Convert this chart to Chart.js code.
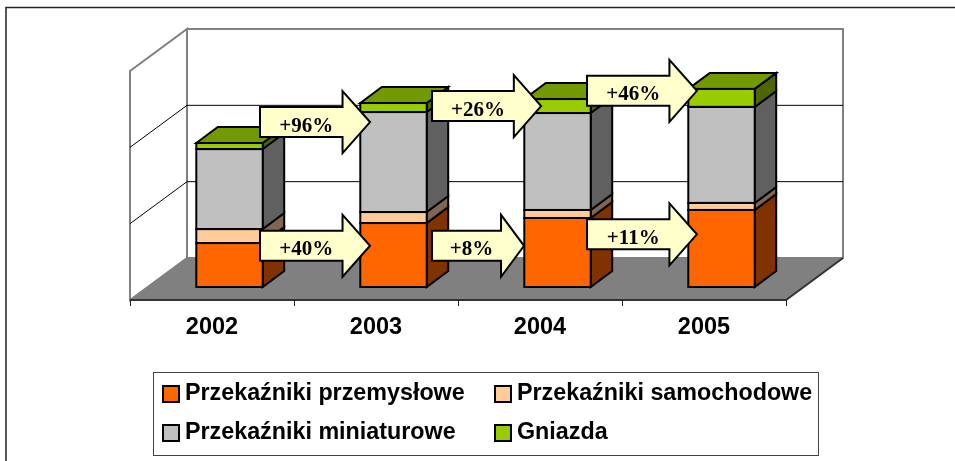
<!DOCTYPE html>
<html>
<head>
<meta charset="utf-8">
<style>
  body { margin: 0; background: #fff; }
  canvas { display: block; }
</style>
<script src="https://cdn.jsdelivr.net/npm/chart.js@4/dist/chart.umd.min.js"></script>
</head>
<body>
<canvas id="relayChart" width="955" height="461"></canvas>
<script>
const years = ['2002', '2003', '2004', '2005'];
const industrial = [57.6, 83.8, 90.4, 100.9];
const automotive = [18.3, 14.4, 10.5, 9.2];
const miniature = [104.8, 131, 127, 125.8];
const sockets = [7.9, 11.8, 18.3, 23.6];

const seriesNames = ['Przekaźniki przemysłowe', 'Przekaźniki samochodowe', 'Przekaźniki miniaturowe', 'Gniazda'];

// growth arrows: from/to in category units, at a value on the y axis
const growthTexts = ['+96%', '+26%', '+46%', '+40%', '+8%', '+11%'];
const growthFrom = [0.186, 1.235, 2.18, 0.186, 1.235, 2.18];
const growthTo = [0.857, 1.9, 2.85, 0.857, 1.796, 2.85];
const growthAt = [216, 237, 257, 54, 54, 69];

const faceColors = ['#FF6600', '#FFCC99', '#C0C0C0', '#99CC00'];
const sideColors = ['#803300', '#806650', '#606060', '#4D6600'];
const topColors = ['#BF4D00', '#BF9973', '#909090', '#739900'];

// the bars stand inside the box, so the box front sits left of and below the chart area
const boxFront = { x: -17.5, y: 13 };
const boxDepth = { x: 57, y: -42 };
const barDepth = { x: 21.5, y: -16 };

function poly(ctx, pts, fill, stroke, width) {
  ctx.beginPath();
  pts.forEach((p, i) => i ? ctx.lineTo(p[0], p[1]) : ctx.moveTo(p[0], p[1]));
  ctx.closePath();
  if (fill) { ctx.fillStyle = fill; ctx.fill(); }
  if (stroke) { ctx.strokeStyle = stroke; ctx.lineWidth = width; ctx.stroke(); }
}

const box3d = {
  id: 'box3d',
  beforeDatasetsDraw(chart) {
    const ctx = chart.ctx, area = chart.chartArea, y = chart.scales.y;
    const fl = area.left + boxFront.x, fr = area.right + boxFront.x;
    const fb = area.bottom + boxFront.y, ft = area.top + boxFront.y;
    const bl = fl + boxDepth.x, br = fr + boxDepth.x;
    const bb = fb + boxDepth.y, bt = ft + boxDepth.y;
    ctx.save();

    // walls
    poly(ctx, [[bl, bt], [br, bt], [br, bb], [bl, bb]], '#fff', '#808080', 2);
    poly(ctx, [[fl, ft], [bl, bt], [bl, bb], [fl, fb]], '#fff', '#808080', 2);

    // gridlines along side wall and back wall
    y.ticks.forEach(t => {
      if (t.value === y.min || t.value === y.max) return;
      const py = y.getPixelForValue(t.value) + boxFront.y;
      ctx.beginPath();
      ctx.moveTo(fl, py);
      ctx.lineTo(bl, py + boxDepth.y);
      ctx.lineTo(br, py + boxDepth.y);
      ctx.strokeStyle = '#000';
      ctx.lineWidth = 1;
      ctx.stroke();
    });

    // floor
    poly(ctx, [[fl, fb], [fr, fb], [br, bb], [bl, bb]], '#808080');
    ctx.beginPath();
    ctx.moveTo(fl, fb);
    ctx.lineTo(fr, fb);
    ctx.lineTo(br, bb);
    ctx.strokeStyle = '#333';
    ctx.lineWidth = 2;
    ctx.stroke();

    // tick marks on the front edge
    ctx.beginPath();
    for (let i = 0; i <= years.length; i++) {
      const tx = Math.round(fl + (fr - fl) * i / years.length) + 0.5;
      ctx.moveTo(tx, fb);
      ctx.lineTo(tx, fb + 6);
    }
    ctx.strokeStyle = '#222';
    ctx.lineWidth = 1;
    ctx.stroke();

    // side and top faces of each bar segment
    const dx = barDepth.x, dy = barDepth.y;
    chart.data.datasets.forEach((ds, d) => {
      chart.getDatasetMeta(d).data.forEach(el => {
        const r = el.x + el.width / 2, l = el.x - el.width / 2;
        poly(ctx, [[r, el.y], [r + dx, el.y + dy], [r + dx, el.base + dy], [r, el.base]], sideColors[d], '#000', 2);
        if (d === chart.data.datasets.length - 1) {
          poly(ctx, [[l, el.y], [l + dx, el.y + dy], [r + dx, el.y + dy], [r, el.y]], topColors[d], '#000', 2);
        }
      });
    });
    ctx.restore();
  },
  afterDatasetsDraw(chart) {
    const ctx = chart.ctx, x = chart.scales.x, y = chart.scales.y;
    ctx.save();

    // outline of the front faces
    chart.data.datasets.forEach((ds, d) => {
      chart.getDatasetMeta(d).data.forEach(el => {
        ctx.strokeStyle = '#000';
        ctx.lineWidth = 2;
        ctx.strokeRect(el.x - el.width / 2, el.y, el.width, el.base - el.y);
      });
    });

    // growth arrows
    growthTexts.forEach((text, i) => {
      const x0 = x.getPixelForValue(growthFrom[i]), x1 = x.getPixelForValue(growthTo[i]);
      const cy = y.getPixelForValue(growthAt[i]);
      const neck = x1 - (x1 - x0) * 0.25;
      poly(ctx, [
        [x0, cy - 15], [neck, cy - 15], [neck, cy - 31], [x1, cy],
        [neck, cy + 31], [neck, cy + 15], [x0, cy + 15]
      ], '#FFFFCC', '#000', 2);
      ctx.fillStyle = '#000';
      ctx.font = 'bold 21px "Liberation Serif"';
      ctx.textAlign = 'center';
      ctx.textBaseline = 'alphabetic';
      ctx.fillText(text, (x0 + neck) / 2 + 5, cy + 9.5);
    });
    ctx.restore();
  },
  afterDraw(chart) {
    const ctx = chart.ctx;
    ctx.save();

    // outer frame: only top and left edges are in the picture
    ctx.strokeStyle = '#222';
    ctx.lineWidth = 1.5;
    ctx.beginPath();
    ctx.moveTo(6, 461);
    ctx.lineTo(6, 7.5);
    ctx.lineTo(955, 7.5);
    ctx.stroke();

    // legend
    ctx.strokeStyle = '#444';
    ctx.lineWidth = 1;
    ctx.strokeRect(153.5, 372.5, 665, 83);
    const cols = [163, 495], rows = [386, 425];
    seriesNames.forEach((name, i) => {
      const lx = cols[i % 2], ly = rows[i >> 1];
      ctx.fillStyle = faceColors[i];
      ctx.fillRect(lx, ly, 16, 16);
      ctx.strokeStyle = '#000';
      ctx.lineWidth = 2;
      ctx.strokeRect(lx, ly, 16, 16);
      ctx.fillStyle = '#000';
      ctx.font = 'bold 23.3px "Liberation Sans"';
      ctx.textAlign = 'left';
      ctx.textBaseline = 'alphabetic';
      ctx.fillText(name, lx + 22, ly + 14);
    });
    ctx.restore();
  }
};

const seriesValues = [industrial, automotive, miniature, sockets];

new Chart(document.getElementById('relayChart'), {
  type: 'bar',
  data: {
    labels: years,
    datasets: seriesValues.map((values, i) => ({
      label: seriesNames[i],
      data: values,
      backgroundColor: faceColors[i],
      borderWidth: 0,
      categoryPercentage: 1,
      barPercentage: 0.405
    }))
  },
  options: {
    responsive: false,
    animation: false,
    layout: { padding: { left: 147.5, right: 151.5, top: 58, bottom: 114 } },
    plugins: { legend: { display: false }, tooltip: { enabled: false } },
    scales: {
      x: {
        stacked: true,
        border: { display: false },
        grid: { display: false },
        afterFit(scale) { scale.height = 60; },
        ticks: {
          color: '#000',
          maxRotation: 0,
          padding: 18,
          labelOffset: boxFront.x,
          font: { family: '"Liberation Sans"', size: 23.5, weight: 'bold' }
        }
      },
      y: {
        stacked: true,
        display: false,
        min: 0,
        max: 300,
        ticks: { stepSize: 100 }
      }
    }
  },
  plugins: [box3d]
});
</script>
</body>
</html>
